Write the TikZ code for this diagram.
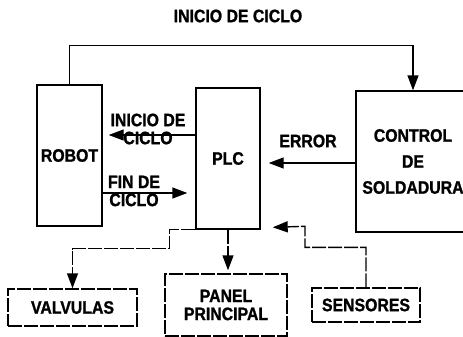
\documentclass[tikz,border=0pt]{standalone}
\usepackage{fontspec}
\setmainfont{Liberation Sans}[FakeStretch=0.88, BoldFeatures={FakeBold=1.2}]
\usetikzlibrary{arrows.meta, calc}

\tikzset{
  blk/.style={draw, line width=1.4pt, inner sep=0pt, align=center,
    font=\fontsize{18}{18}\selectfont\bfseries},
  lbl/.style={align=center, font=\fontsize{18}{18}\selectfont\bfseries},
  arr/.style={-{Triangle[length=15pt, width=11pt]}, line width=1.4pt},
  scan/.style={dash pattern=on 14pt off 2pt}
}

\begin{document}
\begin{tikzpicture}[x=1pt, y=-1pt]
  \clip (0,0) rectangle (463,337);
  % Bloques principales
  \node[blk, minimum width=65pt, minimum height=141pt] (robot) at (69.5,155.5) {ROBOT};
  \node[blk, minimum width=64pt, minimum height=141pt] (plc) at (228,158.5) {PLC};
  \node[blk, minimum width=114pt, minimum height=141pt,
    font=\fontsize{18}{26}\selectfont\bfseries] (control) at (413,161.5) {CONTROL\\DE\\SOLDADURA};
  % Bloques inferiores
  \node[blk, scan, minimum width=129pt, minimum height=37pt] (valvulas) at (72.5,307.5) {VALVULAS};
  \node[blk, scan, minimum width=122pt, minimum height=62pt] (panel) at (226,305) {PANEL\\PRINCIPAL};
  \node[blk, scan, minimum width=108pt, minimum height=34pt] (sensores) at (366,305) {SENSORES};
  % Alturas de las flechas
  \coordinate (yinicio) at (0,135);
  \coordinate (yfin) at (0,193);
  \coordinate (yerror) at (0,163);
  % Inicio de ciclo (arriba)
  \node[lbl] (titulo) at (238,16) {INICIO DE CICLO};
  \draw[arr] (robot.north) -- ++(0,-39) -| (control.north);
  % Robot <-> PLC
  \draw[arr, shorten >=6pt] (plc.west |- yinicio) -- (robot.east |- yinicio);
  \node[lbl] (inicio) at (148,129) {INICIO DE\\CICLO};
  \draw[arr, shorten >=8pt] (robot.east |- yfin) -- (plc.west |- yfin);
  \node[lbl] (fin) at (134,191) {FIN DE\\CICLO};
  % Error
  \draw[arr, shorten >=8pt] (control.west |- yerror) -- (plc.east |- yerror);
  \node[lbl] (error) at (308,141) {ERROR};
  % Salidas y entradas del PLC
  \draw[arr, scan] (plc.south west) -- ++(-26,0) -- ++(0,19) -| (valvulas.north);
  \draw[arr, scan, shorten >=3pt] (plc.south) -- (plc.south |- panel.north);
  \draw[arr, scan, shorten >=12pt] (sensores.north) -- ++(0,-40) -| ++(-61,-21)
    -- ([yshift=2pt]plc.south east);
\end{tikzpicture}
\end{document}
